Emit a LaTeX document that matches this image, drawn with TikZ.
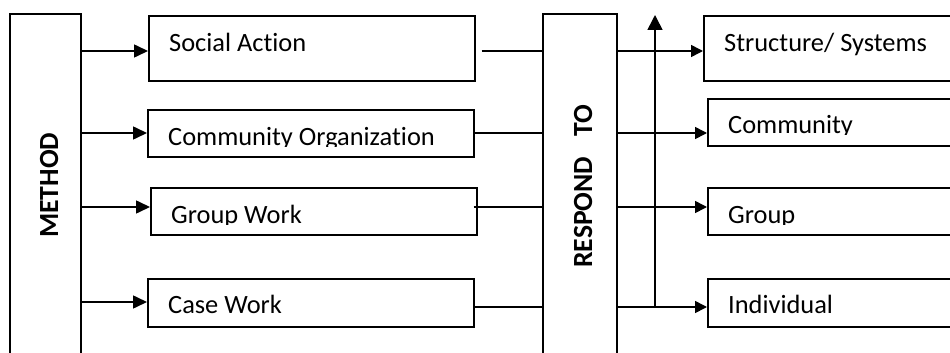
\documentclass[tikz,border=0pt]{standalone}
\usepackage{fontspec}
\setmainfont[Ligatures=CommonOff]{Carlito}
\usetikzlibrary{arrows.meta}
\begin{document}
\begin{tikzpicture}[x=1pt,y=-1pt,
  frame/.style={draw, line width=1.6pt, inner sep=0pt, anchor=north west},
  txt/.style={inner sep=0pt, anchor=base west, font=\fontsize{26.4}{30}\selectfont},
  vtxt/.style={inner sep=0pt, anchor=base west, rotate=90, font=\fontsize{27.7}{32}\selectfont\bfseries},
  link/.style={line width=1.6pt},
  arrL/.style={line width=1.6pt, -{Triangle[length=14pt,width=13pt]}},
  arrR/.style={line width=1.6pt, -{Triangle[length=12pt,width=12pt]}},
  arrU/.style={line width=1.6pt, -{Triangle[length=15pt,width=15pt]}},
]
\useasboundingbox (0,0) rectangle (950,353);
\fill[white] (0,0) rectangle (950,353);
\clip (0,0) rectangle (950,353);

% tall side columns
\node[frame, minimum width=71pt, minimum height=357pt] (m) at (9,13) {};
\node[frame, minimum width=74pt, minimum height=357pt] (r) at (542,13) {};
\node[vtxt] (m-t) at (58,238) {METHOD};
\node[vtxt] (r-t) at (592,268) {RESPOND\hspace{20pt}TO};

% methods
\node[frame, minimum width=326pt, minimum height=65pt] (sa) at (148,15) {};
\node[frame, minimum width=326pt, minimum height=47pt] (co) at (147,109) {};
\node[frame, minimum width=326pt, minimum height=47pt] (gw) at (150,187) {};
\node[frame, minimum width=326pt, minimum height=48pt] (cw) at (147,278) {};

% levels of response
\node[frame, minimum width=267pt, minimum height=65pt] (ss) at (703,15) {};
\node[frame, minimum width=263pt, minimum height=47pt] (cm) at (707,98) {};
\node[frame, minimum width=263pt, minimum height=47pt] (gp) at (707,187) {};
\node[frame, minimum width=263pt, minimum height=48pt] (iv) at (707,278) {};

% box labels (some are cut off by the box's inner margin)
\node[txt] (sa-t) at (169,52) {Social Action};
\begin{scope}
  \clip (co.north west) rectangle ([yshift=11pt]co.south east);
  \node[txt] (co-t) at (168,145) {Community Organization};
\end{scope}
\begin{scope}
  \clip (gw.north west) rectangle ([yshift=11pt]gw.south east);
  \node[txt] (gw-t) at (171,223) {Group Work};
\end{scope}
\node[txt] (cw-t) at (168,313) {Case Work};
\node[txt] (ss-t) at (724,52) {Structure/ Systems};
\begin{scope}
  \clip (cm.north west) rectangle ([yshift=12pt]cm.south east);
  \node[txt] (cm-t) at (728,133) {Community};
\end{scope}
\begin{scope}
  \clip (gp.north west) rectangle ([yshift=11pt]gp.south east);
  \node[txt] (gp-t) at (728,223) {Group};
\end{scope}
\node[txt] (iv-t) at (728,313) {Individual};

% row levels
\coordinate (r1) at (0,51);
\coordinate (r2) at (0,133);
\coordinate (r3) at (0,207);
\coordinate (r4) at (0,302);
\coordinate (r5) at (0,307);
\coordinate (up) at (655,15);

% method -> boxes
\draw[arrL] (m.east |- r1) -- (sa.west |- r1);
\draw[arrL] (m.east |- r2) -- (co.west |- r2);
\draw[arrL] (m.east |- r3) -- (gw.west |- r3);
\draw[arrL] (m.east |- r4) -- (cw.west |- r4);

% boxes -> respond column
\draw[link] ([xshift=6pt]sa.east |- r1) -- (r.west |- r1);
\draw[link] (co.east |- r2) -- (r.west |- r2);
\draw[link] ([xshift=-4pt]gw.east |- r3) -- (r.west |- r3);
\draw[link] (cw.east |- r5) -- (r.west |- r5);

% respond column -> targets
\draw[arrR] (r.east |- r1) -- (ss.west |- r1);
\draw[arrR] (r.east |- r2) -- (cm.west |- r2);
\draw[arrR] (r.east |- r3) -- (gp.west |- r3);
\draw[arrR] (r.east |- r5) -- (iv.west |- r5);
\draw[arrU] (up |- r5) -- (up);
\end{tikzpicture}
\end{document}
